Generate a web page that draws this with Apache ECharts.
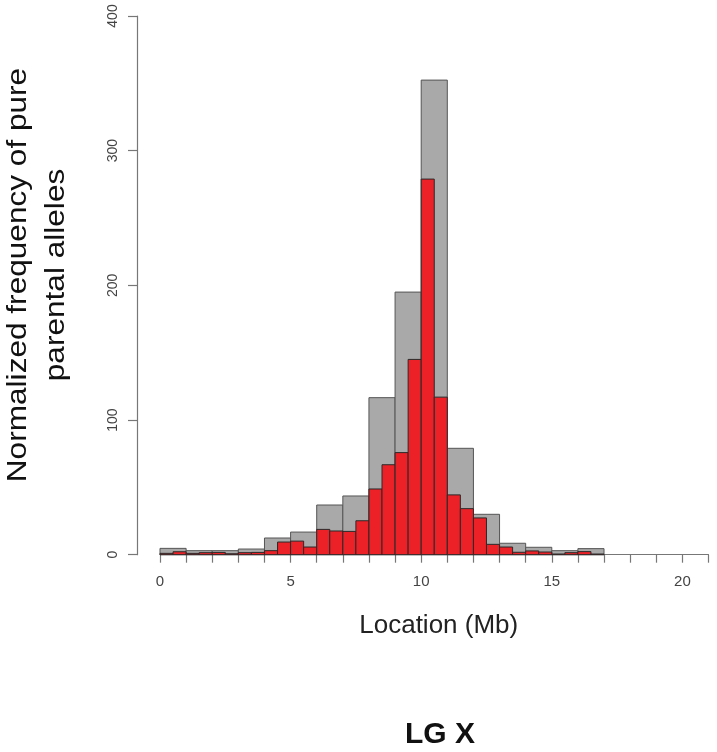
<!DOCTYPE html>
<html>
<head>
<meta charset="utf-8">
<script src="https://cdn.jsdelivr.net/npm/echarts@6/dist/echarts.min.js"></script>
<style>html,body{margin:0;padding:0;background:#fff}#c{width:717px;height:752px}</style>
</head>
<body>
<div id="c"></div>
<script>
// Gray histogram: 1 Mb bins starting at 0
const grayBinWidth = 1;
const grayValues = [4.7, 3, 3, 4.2, 12.4, 16.8, 36.9, 43.6, 116.6, 195, 352.4, 79, 30, 8.5, 5.5, 3, 4.5];
// Red histogram: 0.5 Mb bins starting at 0
const redBinWidth = 0.5;
const redValues = [1, 2.2, 1, 1.5, 1.7, 0.7, 1.5, 1.7, 3, 9.4, 10.1, 5.7, 18.8, 17.6, 17.3, 25.2,
  48.8, 66.8, 75.8, 145, 278.9, 117, 44.4, 34.2, 27.3, 7.7, 5.7, 1.8, 2.8, 2, 0.5, 1.5, 2.3, 0.5];
const xTickLabels = [0, 5, 10, 15, 20];
const yTickLabels = [0, 100, 200, 300, 400];
const xTitle = 'Location (Mb)';
const yTitle = 'Normalized frequency of pure\nparental alleles';
const chartTitle = 'LG X';

const FONT = '"Liberation Sans", Arial, Helvetica, sans-serif';
const AXIS_COLOR = '#777';

function toBins(values, w) {
  return values.map((v, i) => [i * w, (i + 1) * w, v]);
}

function histRender(fill, stroke) {
  return function (params, api) {
    const p0 = api.coord([api.value(0), 0]);
    const p1 = api.coord([api.value(1), api.value(2)]);
    return {
      type: 'rect',
      shape: { x: p0[0], y: p1[1], width: p1[0] - p0[0], height: p0[1] - p1[1] },
      style: { fill: fill, stroke: stroke, lineWidth: 1 }
    };
  };
}

const chart = echarts.init(document.getElementById('c'), null, { renderer: 'canvas' });
chart.setOption({
  animation: false,
  backgroundColor: '#ffffff',
  grid: [
    { left: 137, width: 1, top: 16, bottom: 197.3, containLabel: false },
    { left: 160, right: 8.5, top: 16, bottom: 197.3, containLabel: false }
  ],
  xAxis: [
    { gridIndex: 0, type: 'value', min: 0, max: 1, show: false },
    {
      gridIndex: 1, type: 'value', min: 0, max: 21, interval: 1,
      name: xTitle, nameLocation: 'middle', nameGap: 58,
      nameTextStyle: { fontFamily: FONT, fontSize: 26, color: '#222', padding: [0, 0, 0, 9] },
      axisLine: { show: true, onZero: false, lineStyle: { color: AXIS_COLOR, width: 1.2 } },
      axisTick: { show: true, length: 8, lineStyle: { color: AXIS_COLOR, width: 1.2 } },
      axisLabel: {
        margin: 20, fontFamily: FONT, fontSize: 15, color: '#444',
        formatter: v => (xTickLabels.indexOf(v) >= 0 ? String(v) : '')
      },
      splitLine: { show: false }
    }
  ],
  yAxis: [
    {
      gridIndex: 0, type: 'value', min: 0, max: 400, interval: 100,
      axisLine: { show: true, onZero: false, lineStyle: { color: AXIS_COLOR, width: 1.2 } },
      axisTick: { show: true, length: 9, lineStyle: { color: AXIS_COLOR, width: 1.2 } },
      axisLabel: {
        margin: 17, rotate: 90, fontFamily: FONT, fontSize: 14, color: '#444',
        formatter: v => (yTickLabels.indexOf(v) >= 0 ? String(v) : '')
      },
      splitLine: { show: false }
    },
    { gridIndex: 1, type: 'value', min: 0, max: 400, interval: 100, show: false }
  ],
  graphic: [
    {
      type: 'text', x: 38, y: 275, rotation: Math.PI / 2, scaleX: 1.17, scaleY: 1,
      style: {
        text: yTitle, font: '27px ' + FONT, fill: '#111',
        textAlign: 'center', textVerticalAlign: 'middle', lineHeight: 38
      }
    },
    {
      type: 'text', x: 440, y: 735,
      style: {
        text: chartTitle, font: 'bold 30px ' + FONT, fill: '#111',
        textAlign: 'center', textVerticalAlign: 'middle'
      }
    }
  ],
  series: [
    {
      type: 'custom', name: 'all', xAxisIndex: 1, yAxisIndex: 1,
      renderItem: histRender('#A9A9A9', '#555555'),
      encode: { x: [0, 1], y: 2 }, data: toBins(grayValues, grayBinWidth), z: 1
    },
    {
      type: 'custom', name: 'pure', xAxisIndex: 1, yAxisIndex: 1,
      renderItem: histRender('#EC2127', '#2a2a2a'),
      encode: { x: [0, 1], y: 2 }, data: toBins(redValues, redBinWidth), z: 2
    }
  ]
});
</script>
</body>
</html>
